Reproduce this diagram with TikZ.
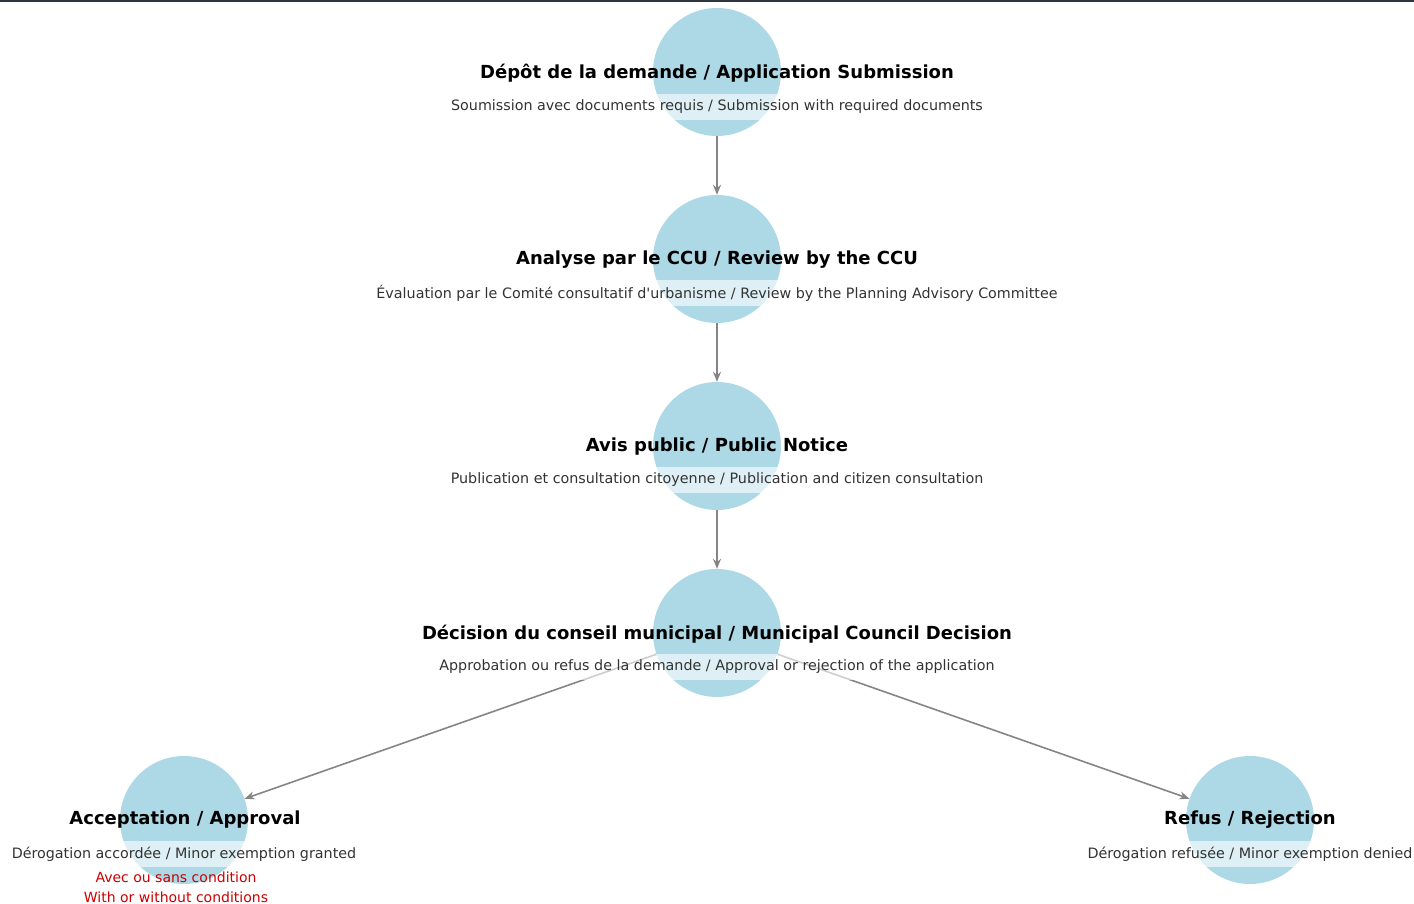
\documentclass[tikz,border=0pt]{standalone}
\usepackage{fontspec}
\setmainfont{DejaVu Sans}
\usetikzlibrary{arrows.meta}

\definecolor{stageblue}{HTML}{ADD8E6}
\definecolor{flowgray}{HTML}{858585}
\definecolor{subgray}{HTML}{333333}
\definecolor{notered}{HTML}{CC0000}
\definecolor{rulegray}{HTML}{2E3440}

\tikzset{
	stage/.style={circle, fill=stageblue, minimum size=128pt, inner sep=0pt},
	stagetitle/.style={font=\bfseries\fontsize{18}{21}\selectfont, text=black, inner sep=0pt},
	stagesub/.style={font=\fontsize{14.3}{17}\selectfont, text=subgray, fill=white, fill opacity=0.6, text opacity=1, inner xsep=3pt, inner ysep=0pt, minimum height=26pt},
	flow/.style={draw=flowgray, line width=1.6pt, -{Stealth[length=10pt,width=8pt]}},
	stagenote/.style={font=\fontsize{14}{20}\selectfont, text=notered, align=center}
}

\begin{document}
\begin{tikzpicture}[x=1pt, y=-1pt]
	\useasboundingbox (0,0) rectangle (1414,904);
	\draw[rulegray, line width=2pt] (0,1) -- (1414,1);

	% circles
	\node[stage] (depot) at (717,72) {};
	\node[stage] (ccu) at (717,259) {};
	\node[stage] (avis) at (717,446) {};
	\node[stage] (decision) at (717,633) {};
	\node[stage] (accept) at (184,820) {};
	\node[stage] (refus) at (1250,820) {};

	% flow
	\draw[flow] (depot) -- (ccu);
	\draw[flow] (ccu) -- (avis);
	\draw[flow] (avis) -- (decision);
	\draw[flow] (decision) -- (accept);
	\draw[flow] (decision) -- (refus);

	% labels
	\node[stagetitle] (depot-t) at (717,73) {Dépôt de la demande / Application Submission};
	\node[stagesub] (depot-s) at (717,107) {Soumission avec documents requis / Submission with required documents};
	\node[stagetitle] (ccu-t) at (717,260) {Analyse par le CCU / Review by the CCU};
	\node[stagesub] (ccu-s) at (717,293) {Évaluation par le Comité consultatif d\textquotesingle urbanisme / Review by the Planning Advisory Committee};
	\node[stagetitle] (avis-t) at (717,447) {Avis public / Public Notice};
	\node[stagesub] (avis-s) at (717,480) {Publication et consultation citoyenne / Publication and citizen consultation};
	\node[stagetitle] (decision-t) at (717,634) {Décision du conseil municipal / Municipal Council Decision};
	\node[stagesub] (decision-s) at (717,667) {Approbation ou refus de la demande / Approval or rejection of the application};
	\node[stagetitle] (accept-t) at (185,820) {Acceptation / Approval};
	\node[stagesub] (accept-s) at (184,854) {Dérogation accordée / Minor exemption granted};
	\node[stagenote] (accept-n) at (176,887) {Avec ou sans condition\\With or without conditions};
	\node[stagetitle] (refus-t) at (1250,820) {Refus / Rejection};
	\node[stagesub] (refus-s) at (1250,854) {Dérogation refusée / Minor exemption denied};
\end{tikzpicture}
\end{document}
